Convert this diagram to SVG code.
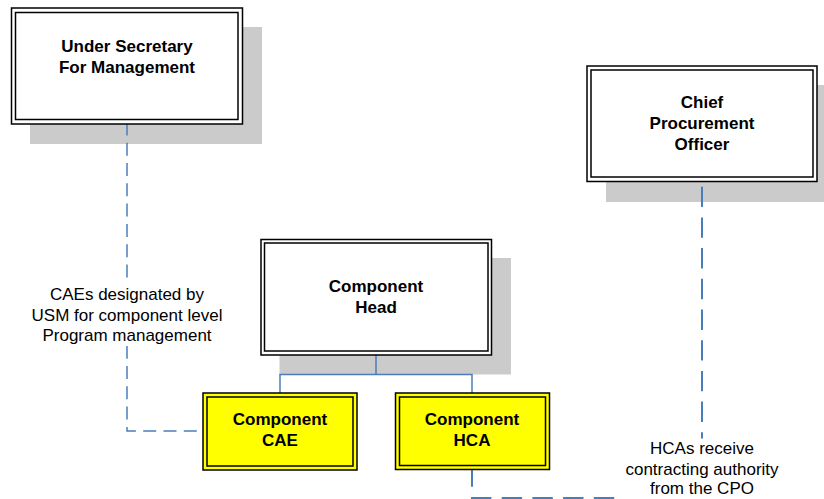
<svg xmlns="http://www.w3.org/2000/svg" width="824" height="499" viewBox="0 0 824 499">
<style>
.shadow{fill:#cbcbcb;stroke:none}
.outer{fill:#fff;stroke:#000;stroke-width:1.5}
.inner{fill:#fff;stroke:#000;stroke-width:1.5}
.y .outer,.y .inner{fill:#ffff00}
.t{font-family:"Liberation Sans",Arial,sans-serif;font-size:17px;font-weight:bold;text-anchor:middle;fill:#000}
.lbl{font-family:"Liberation Sans",Arial,sans-serif;font-size:17px;text-anchor:middle;fill:#000}
.conn{fill:none;stroke:#4a7ebb}
.bg{fill:#fff;stroke:none}
</style>
<rect width="824" height="499" fill="#fff"/>
<g id="shadows">
<rect class="shadow" x="30" y="27" width="232" height="117"/>
<rect class="shadow" x="606" y="85" width="230" height="117"/>
<rect class="shadow" x="279.5" y="258" width="231.5" height="116.5"/>
</g>
<g id="connectors">
<path class="conn" stroke-width="1.5" stroke-dasharray="13 7.3" stroke-dashoffset="1.6" d="M127,124 V431 H203"/>
<path class="conn" stroke-width="2" stroke-dasharray="20.4 10.3" stroke-dashoffset="26" d="M702,182 V498 H472 V469"/>
<path class="conn" stroke-width="1.5" d="M376,355 V374.5 M280,393 V374.5 H472 V393"/>
</g>
<g id="usm">
<rect class="outer" x="11.5" y="8" width="231" height="116"/>
<rect class="inner" x="15.5" y="12.5" width="222.5" height="107"/>
<text class="t" x="127" y="52">Under Secretary</text>
<text class="t" x="127" y="72.5">For Management</text>
</g>
<g id="cpo">
<rect class="outer" x="587" y="66" width="230" height="115.5"/>
<rect class="inner" x="591" y="70" width="222" height="107"/>
<text class="t" x="702" y="108">Chief</text>
<text class="t" x="702" y="129">Procurement</text>
<text class="t" x="702" y="149.5">Officer</text>
</g>
<g id="head">
<rect class="outer" x="261" y="239.5" width="230.5" height="115.5"/>
<rect class="inner" x="264.5" y="243" width="223.5" height="108"/>
<text class="t" x="376" y="292">Component</text>
<text class="t" x="376" y="312.5">Head</text>
</g>
<g id="cae" class="y">
<rect class="outer" x="203" y="393" width="154" height="77"/>
<rect class="inner" x="207" y="397" width="146" height="69"/>
<text class="t" x="280" y="425">Component</text>
<text class="t" x="280" y="446">CAE</text>
</g>
<g id="hca" class="y">
<rect class="outer" x="395.5" y="393" width="154" height="76.5"/>
<rect class="inner" x="399.5" y="397" width="146" height="68.5"/>
<text class="t" x="472" y="425">Component</text>
<text class="t" x="472" y="446">HCA</text>
</g>
<g id="label-usm">
<rect class="bg" x="28" y="284" width="198" height="62"/>
<text class="lbl" x="127" y="300">CAEs designated by</text>
<text class="lbl" x="127" y="320.5">USM for component level</text>
<text class="lbl" x="127" y="341">Program management</text>
</g>
<g id="label-hca">
<rect class="bg" x="619" y="438.5" width="166" height="61"/>
<text class="lbl" x="702" y="454">HCAs receive</text>
<text class="lbl" x="702" y="474.5">contracting authority</text>
<text class="lbl" x="702" y="494">from the CPO</text>
</g>
</svg>
